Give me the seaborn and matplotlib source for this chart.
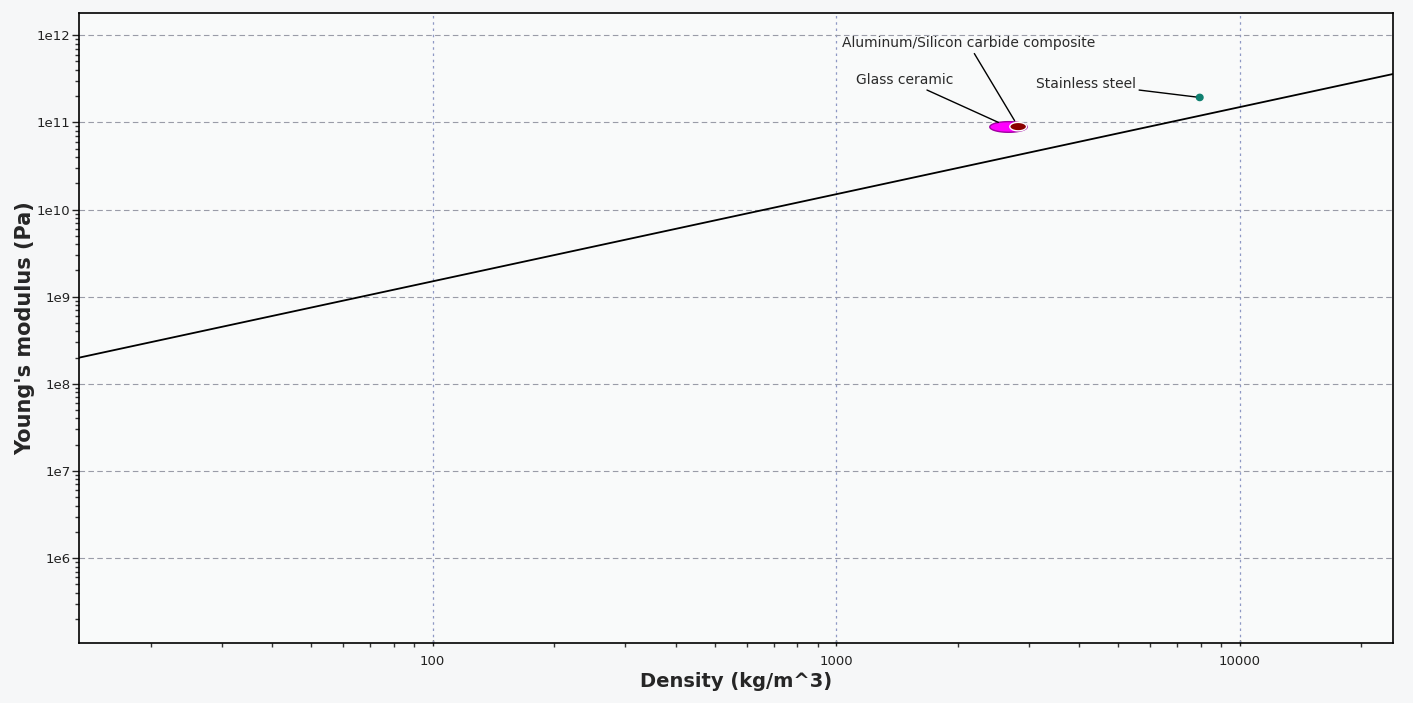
import numpy as np
import pandas as pd
import matplotlib
matplotlib.use("Agg")
import matplotlib.pyplot as plt
from matplotlib.ticker import FixedLocator, LogLocator, FuncFormatter, NullFormatter
import seaborn as sns

# material property ranges (density kg/m^3, Young's modulus Pa)
materials = ["Glass ceramic", "Aluminum/Silicon carbide composite", "Stainless steel"]
density_lo = [2400, 2690, 7800]
density_hi = [2970, 2960, 8100]
modulus_lo = [7.7e10, 8.0e10, 1.78e11]
modulus_hi = [1.02e11, 1.0e11, 2.1e11]
fill_colors = ["#ff00ff", "#8b0000", "#0f8070"]
edge_colors = ["#a000a0", "#ffffff", "#0f8070"]

# selection guide line E / rho = const
guide_density = [13.3, 23950]
guide_ratio = 1.5e7

x_ticks = [100, 1000, 10000]
y_ticks = [1e6, 1e7, 1e8, 1e9, 1e10, 1e11, 1e12]

sns.set_style("ticks")
plt.rcParams["font.family"] = ["DejaVu Sans"]

fig = plt.figure(figsize=(14.13, 7.03), dpi=100, facecolor="#f6f7f8")
ax = fig.add_axes([0.0559, 0.0853, 0.930, 0.8962])
ax.set_facecolor("#f9fafa")
ax.set_xscale("log")
ax.set_yscale("log")

guide = pd.DataFrame({"density": guide_density,
                      "modulus": [d * guide_ratio for d in guide_density]})
sns.lineplot(data=guide, x="density", y="modulus", color="black", lw=1.3, ax=ax, zorder=3)

# property bubbles drawn as ellipses in log space
t = np.linspace(0, 2 * np.pi, 100)
centers = []
for i, name in enumerate(materials):
    cx = (np.log10(density_lo[i]) + np.log10(density_hi[i])) / 2
    rx = (np.log10(density_hi[i]) - np.log10(density_lo[i])) / 2
    cy = (np.log10(modulus_lo[i]) + np.log10(modulus_hi[i])) / 2
    ry = (np.log10(modulus_hi[i]) - np.log10(modulus_lo[i])) / 2
    ax.fill(10 ** (cx + rx * np.cos(t)), 10 ** (cy + ry * np.sin(t)),
            facecolor=fill_colors[i], edgecolor=edge_colors[i], lw=1.0, zorder=4 + i)
    centers.append((10 ** cx, 10 ** cy))

label_offsets = [(-75, 34), (-36, 60), (-82, 10)]
label_shrink = [8, 5, 3]
for i, name in enumerate(materials):
    ax.annotate(name, xy=centers[i], xytext=label_offsets[i], textcoords="offset points",
                ha="center", va="center", fontsize=10, color="#2a2a2a",
                arrowprops=dict(arrowstyle="-", color="black", lw=1.0,
                                shrinkA=0, shrinkB=label_shrink[i]),
                zorder=8)

ax.set_xlim(13.3, 23950)
ax.set_ylim(1.06e5, 1.8e12)

ax.xaxis.set_major_locator(FixedLocator(x_ticks))
ax.xaxis.set_major_formatter(FuncFormatter(lambda v, p: f"{int(round(v))}"))
ax.xaxis.set_minor_locator(LogLocator(base=10, subs=np.arange(2, 10)))
ax.xaxis.set_minor_formatter(NullFormatter())
ax.yaxis.set_major_locator(FixedLocator(y_ticks))
ax.yaxis.set_major_formatter(FuncFormatter(lambda v, p: f"1e{int(round(np.log10(v)))}"))
ax.yaxis.set_minor_locator(LogLocator(base=10, subs=np.arange(2, 10)))
ax.yaxis.set_minor_formatter(NullFormatter())

ax.tick_params(which="major", length=5, width=1.0, labelsize=9.5, colors="#222222")
ax.tick_params(which="minor", length=3, width=1.0, colors="#333333")
ax.tick_params(axis="x", direction="inout", pad=6)
ax.tick_params(axis="y", pad=1)

ax.grid(False)
for x in x_ticks:
    ax.axvline(x, color="#8e98c4", lw=0.9, ls=(0, (2, 3)), zorder=1)
for y in y_ticks:
    ax.axhline(y, color="#9a9ca8", lw=0.8, ls=(0, (5, 3)), zorder=1)

for s in ax.spines.values():
    s.set_color("black")
    s.set_linewidth(1.2)

ax.set_xlabel("Density (kg/m^3)", fontsize=14, fontweight="bold", labelpad=3)
ax.set_ylabel("Young's modulus (Pa)", fontsize=15, fontweight="bold", labelpad=1)

fig.savefig("out.png", dpi=100, facecolor=fig.get_facecolor())
